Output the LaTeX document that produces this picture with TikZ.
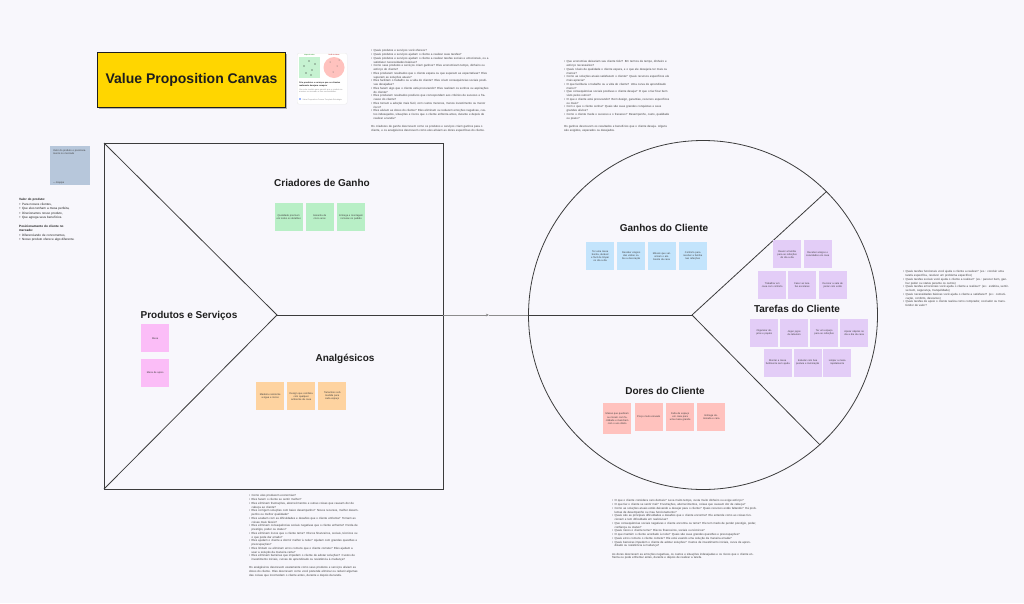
\documentclass[tikz,border=0pt]{standalone}
\usepackage{fontspec}
\setmainfont{Liberation Sans}
\usetikzlibrary{arrows.meta}
\definecolor{bg}{HTML}{F8F7FC}
\definecolor{ttl}{HTML}{FFD600}
\definecolor{sgreen}{HTML}{B8EFC6}
\definecolor{spink}{HTML}{FBBDF7}
\definecolor{sorange}{HTML}{FED3A0}
\definecolor{sblue}{HTML}{C3E4FC}
\definecolor{spurple}{HTML}{E3CDF7}
\definecolor{sred}{HTML}{FFC2BE}
\definecolor{sgray}{HTML}{B7C7DB}
\definecolor{ink}{HTML}{1E1E1E}
\definecolor{frame}{HTML}{3C3C3C}
\newcommand\myitem[1]{\hangindent=2.4pt\hangafter=1\noindent\hbox to 2.4pt{•\hss}#1\par}
\tikzset{
  sticky/.style={anchor=north west, minimum width=28pt, minimum height=28pt, inner sep=1.8pt,
    text width=24.4pt, align=center, font=\fontsize{2.5}{3.1}\selectfont, text=ink!85},
  heading/.style={font=\bfseries\fontsize{10}{12}\selectfont, text=ink, inner sep=0pt},
  tiny/.style={anchor=north west, inner sep=0pt, align=left, text=ink!85,
    font=\fontsize{2.9}{3.75}\selectfont},
  shape line/.style={draw=frame, line width=0.8pt},
  conn/.style={draw=black!45, line width=0.5pt}
}
\begin{document}
\begin{tikzpicture}[x=1pt,y=-1pt]
\fill[bg] (0,0) rectangle (1024,603);
\useasboundingbox (0,0) rectangle (1024,603);

% title
\fill[black!30] (98.5,53.5) rectangle (286.5,108.5);
\node[draw=ink, line width=1.1pt, fill=ttl, minimum width=188pt, minimum height=55pt, anchor=north west,
  font=\bfseries\fontsize{14}{16}\selectfont, text=ink] (title) at (97,52) {Value Proposition Canvas};

% thumbnail card
\node[fill=white, draw=black!8, rounded corners=2pt, minimum width=50pt, minimum height=51pt, anchor=north west] (thumb) at (297,53) {};
\fill[sgreen!80] (299,57) rectangle (320,78);
\fill[sred] (334,67.5) circle (10.5);
\node[font=\fontsize{1.6}{2}\selectfont, text=green!50!black, inner sep=0] (tg) at (309.5,54.8) {Mapa de valor};
\node[font=\fontsize{1.6}{2}\selectfont, text=red!70!black, inner sep=0] (tr) at (334,54.8) {Perfil do cliente};
\foreach \p in {(304,66),(309,61),(312,70),(315,64),(306,73),(311,75)} \fill[ink] \p circle (0.6);
\foreach \p in {(330,62),(337,66),(333,72),(339,60)} \fill[ink!70] \p circle (0.5);
\node[tiny, text width=46pt, font=\bfseries\fontsize{2.1}{2.9}\selectfont, text=ink] (tt1) at (299,82) {Crie produtos e serviços que os clientes realmente desejam comprar};
\node[tiny, text width=46pt, font=\fontsize{2}{2.8}\selectfont, text=black!45] (tt2) at (299,88.5) {Use este modelo para garantir que o produto se encaixe no mercado e nas necessidades.};
\fill[sblue!80!blue] (299,98.3) rectangle (301,100.3);
\node[tiny, font=\fontsize{1.9}{2.4}\selectfont, text=black!45] (tt3) at (302.5,98.4) {Value Proposition Canvas  Template  Estratégia};

% text block 1
\node[tiny, text width=118pt] (txtA) at (371,49.5) {%
\myitem{Quais produtos e serviços você oferece?}
\myitem{Quais produtos e serviços ajudam o cliente a realizar suas tarefas?}
\myitem{Quais produtos e serviços ajudam o cliente a realizar tarefas sociais e emocionais, ou a satisfazer necessidades básicas?}
\myitem{Como seus produtos e serviços criam ganhos? Eles economizam tempo, dinheiro ou esforço do cliente?}
\myitem{Eles produzem resultados que o cliente espera ou que superam as expectativas? Eles superam as soluções atuais?}
\myitem{Eles facilitam o trabalho ou a vida do cliente? Eles criam consequências sociais positivas desejadas?}
\myitem{Eles fazem algo que o cliente está procurando? Eles realizam os sonhos ou aspirações do cliente?}
\myitem{Eles produzem resultados positivos que correspondem aos critérios de sucesso e fracasso do cliente?}
\myitem{Eles tornam a adoção mais fácil, com custos menores, menos investimento ou menor risco?}
\myitem{Eles aliviam as dores do cliente? Eles eliminam ou reduzem emoções negativas, custos indesejados, situações e riscos que o cliente enfrenta antes, durante e depois de realizar a tarefa?}
\vspace{4.5pt}
\noindent Os criadores de ganho descrevem como os produtos e serviços criam ganhos para o cliente, e os analgésicos descrevem como eles aliviam as dores específicas do cliente.\par};

% text block 2
\node[tiny, text width=107pt] (txtB) at (564,60.5) {%
\myitem{Que economias deixariam seu cliente feliz? Em termos de tempo, dinheiro e esforço necessários?}
\myitem{Quais níveis de qualidade o cliente espera, e o que ele desejaria ter mais ou menos?}
\myitem{Como as soluções atuais satisfazem o cliente? Quais recursos específicos ele mais aprecia?}
\myitem{O que facilitaria o trabalho ou a vida do cliente? Uma curva de aprendizado menor?}
\myitem{Que consequências sociais positivas o cliente deseja? O que o faz ficar bem visto pelos outros?}
\myitem{O que o cliente está procurando? Bom design, garantias, recursos específicos ou mais?}
\myitem{Com o que o cliente sonha? Quais são suas grandes conquistas e seus grandes alívios?}
\myitem{Como o cliente mede o sucesso e o fracasso? Desempenho, custo, qualidade ou prazo?}
\vspace{4.5pt}
\noindent Os ganhos descrevem os resultados e benefícios que o cliente deseja. Alguns são exigidos, esperados ou desejados.\par};

% left note sticky and text
\node[anchor=north west, fill=sgray, minimum width=40pt, minimum height=39pt] (note) at (50,146) {};
\node[tiny, text width=34pt, font=\fontsize{2.5}{3.3}\selectfont] (notet) at (53,149) {Valor do produto e posicionamento no mercado};
\node[tiny, font=\fontsize{2.5}{3.3}\selectfont] (notes) at (53,181) {— Equipe};

\node[tiny, text width=80pt, font=\fontsize{3.1}{4.4}\selectfont, text=ink] (txtL) at (19,198.5) {%
\textbf{Valor do produto:}\\
+ Para nossos clientes,\\
+ Que eles tenham a mesa perfeita,\\
+ Direcionamos nosso produto,\\
+ Que agrega seus benefícios.\\[4.4pt]
\textbf{Posicionamento do cliente no}\\
\textbf{mercado:}\\
+ Diferenciando de concorrentes,\\
+ Nosso produto oferece algo diferente.};

% square (value map)
\draw[shape line] (104,143) rectangle (443,489);
\coordinate (sqc) at (277,315);
\coordinate (sqE) at (443,315);
\draw[shape line] (104,143) -- (sqc) -- (104,489);
\draw[shape line] (sqc) -- (sqE);

% circle (customer profile)
\node[circle, shape line, minimum size=349pt, inner sep=0] (circ) at (703,315) {};
\coordinate (cc) at (692,315);
\draw[shape line] (circ.west) -- (cc);
\draw[shape line] (cc) -- (circ.45);
\draw[shape line] (cc) -- (circ.-48);

% connector
\coordinate (mid) at (489,315);
\draw[conn, -{Stealth[length=3.2pt,width=2.8pt]}] (sqE) -- (mid);
\draw[conn] (mid) -- (circ.west);

% headings
\node[heading] (hcg) at (322,183) {Criadores de Ganho};
\node[heading] (hps) at (189,316) {Produtos e Serviços};
\node[heading] (han) at (345,359) {Analgésicos};
\node[heading] (hgc) at (664,228) {Ganhos do Cliente};
\node[heading] (htc) at (797,309) {Tarefas do Cliente};
\node[heading] (hdc) at (665,391) {Dores do Cliente};

% gain creators
\node[sticky, fill=sgreen] (g1) at (274.5,203) {Qualidade premium em todos os detalhes};
\node[sticky, fill=sgreen] (g2) at (305.5,203) {Garantia de cinco anos};
\node[sticky, fill=sgreen] (g3) at (337,203) {Entrega e montagem inclusas no pedido};

% products
\node[sticky, fill=spink] (p1) at (141,324) {Mesa};
\node[sticky, fill=spink] (p2) at (141,359) {Mesa de apoio};

% pain relievers
\node[sticky, fill=sorange] (o1) at (256,382) {Madeira resistente a água e riscos};
\node[sticky, fill=sorange] (o2) at (287,382) {Design que combina com qualquer ambiente da casa};
\node[sticky, fill=sorange] (o3) at (318,382) {Tamanhos sob medida para cada espaço};

% gains
\node[sticky, fill=sblue] (b1) at (586,242) {Ter uma mesa bonita, durável e fácil de limpar no dia a dia};
\node[sticky, fill=sblue] (b2) at (617,242) {Receber elogios das visitas sobre a decoração};
\node[sticky, fill=sblue] (b3) at (647.5,242) {Móveis que valorizam o ambiente da casa};
\node[sticky, fill=sblue] (b4) at (678.5,242) {Conforto para receber a família nas refeições};

% jobs
\node[sticky, fill=spurple] (t1) at (773,240) {Reunir a família para as refeições do dia a dia};
\node[sticky, fill=spurple] (t2) at (803.5,240) {Receber amigos e convidados em casa};
\node[sticky, fill=spurple] (t3) at (758,271) {Trabalhar em casa com conforto};
\node[sticky, fill=spurple] (t4) at (788,271) {Fazer as tarefas escolares};
\node[sticky, fill=spurple] (t5) at (818.5,271) {Decorar a sala de jantar com estilo};
\node[sticky, fill=spurple] (t6) at (750,318.5) {Organizar objetos e papéis};
\node[sticky, fill=spurple] (t7) at (780,318.5) {Jogar jogos de tabuleiro};
\node[sticky, fill=spurple] (t8) at (810,318.5) {Ter um espaço para as refeições};
\node[sticky, fill=spurple] (t9) at (840,318.5) {Apoiar objetos no dia a dia da casa};
\node[sticky, fill=spurple] (t10) at (763.5,348.5) {Montar a mesa facilmente sem ajuda};
\node[sticky, fill=spurple] (t11) at (793.5,348.5) {Estudar com boa postura e iluminação};
\node[sticky, fill=spurple] (t12) at (823,348.5) {Limpar a mesa rapidamente};

% pains
\node[sticky, fill=sred, minimum height=31pt] (r1) at (603,403) {Mesas que quebram ou riscam com facilidade e mancham com o uso diário};
\node[sticky, fill=sred] (r2) at (634.5,403) {Preço muito elevado};
\node[sticky, fill=sred] (r3) at (666,403) {Falta de espaço em casa para uma mesa grande};
\node[sticky, fill=sred] (r4) at (697,403) {Entrega demorada e cara};

% right text
\node[tiny, text width=106pt] (txtR) at (903,270.5) {%
\myitem{Quais tarefas funcionais você ajuda o cliente a realizar? (ex.: concluir uma tarefa específica, resolver um problema específico)}
\myitem{Quais tarefas sociais você ajuda o cliente a realizar? (ex.: parecer bem, ganhar poder ou status perante os outros)}
\myitem{Quais tarefas emocionais você ajuda o cliente a realizar? (ex.: estética, sentir-se bem, segurança, tranquilidade)}
\myitem{Quais necessidades básicas você ajuda o cliente a satisfazer? (ex.: comunicação, conforto, descanso)}
\myitem{Quais tarefas de apoio o cliente realiza como comprador, cocriador ou transferidor de valor?}};

% bottom left text
\node[tiny, text width=110pt] (txtBL) at (249,494.5) {%
\myitem{Como eles produzem economias?}
\myitem{Eles fazem o cliente se sentir melhor?}
\myitem{Eles eliminam frustrações, aborrecimentos e outras coisas que causam dor de cabeça ao cliente?}
\myitem{Eles corrigem soluções com baixo desempenho? Novos recursos, melhor desempenho ou melhor qualidade?}
\myitem{Eles acabam com as dificuldades e desafios que o cliente enfrenta? Tornam as coisas mais fáceis?}
\myitem{Eles eliminam consequências sociais negativas que o cliente enfrenta? Perda de prestígio, poder ou status?}
\myitem{Eles eliminam riscos que o cliente teme? Riscos financeiros, sociais, técnicos ou o que pode dar errado?}
\myitem{Eles ajudam o cliente a dormir melhor à noite? Ajudam com grandes questões e preocupações?}
\myitem{Eles limitam ou eliminam erros comuns que o cliente comete? Eles ajudam a usar a solução da maneira certa?}
\myitem{Eles eliminam barreiras que impedem o cliente de adotar soluções? Custos de investimento iniciais, curvas de aprendizado ou resistência à mudança?}
\vspace{4.5pt}
\noindent Os analgésicos descrevem exatamente como seus produtos e serviços aliviam as dores do cliente. Eles descrevem como você pretende eliminar ou reduzir algumas das coisas que incomodam o cliente antes, durante e depois da tarefa.\par};

% bottom right text
\node[tiny, text width=146pt] (txtBR) at (612,499.5) {%
\myitem{O que o cliente considera caro demais? Leva muito tempo, custa muito dinheiro ou exige esforço?}
\myitem{O que faz o cliente se sentir mal? Frustrações, aborrecimentos, coisas que causam dor de cabeça?}
\myitem{Como as soluções atuais estão deixando a desejar para o cliente? Quais recursos estão faltando? Há problemas de desempenho ou mau funcionamento?}
\myitem{Quais são as principais dificuldades e desafios que o cliente encontra? Ele entende como as coisas funcionam e tem dificuldade em realizá-las?}
\myitem{Que consequências sociais negativas o cliente encontra ou teme? Ele tem medo de perder prestígio, poder, confiança ou status?}
\myitem{Quais riscos o cliente teme? Riscos financeiros, sociais ou técnicos?}
\myitem{O que mantém o cliente acordado à noite? Quais são suas grandes questões e preocupações?}
\myitem{Quais erros comuns o cliente comete? Ele está usando uma solução da maneira errada?}
\myitem{Quais barreiras impedem o cliente de adotar soluções? Custos de investimento iniciais, curva de aprendizado ou resistência à mudança?}
\vspace{4.5pt}
\noindent As dores descrevem as emoções negativas, os custos e situações indesejadas e os riscos que o cliente enfrenta ou pode enfrentar antes, durante e depois de realizar a tarefa.\par};
\end{tikzpicture}
\end{document}
